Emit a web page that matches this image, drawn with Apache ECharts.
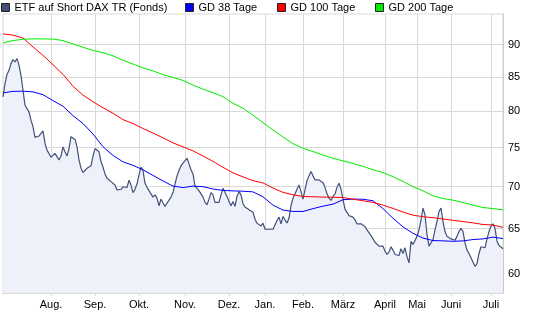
<!DOCTYPE html>
<html>
<head>
<meta charset="utf-8">
<title>ETF auf Short DAX TR (Fonds)</title>
<script src="https://cdn.jsdelivr.net/npm/echarts@6/dist/echarts.min.js"></script>
<style>
  html, body { margin: 0; padding: 0; background: #ffffff; }
  #chart { width: 545px; height: 327px; }
</style>
</head>
<body>
<div id="chart"></div>
<script>
// Month segments of the trading calendar (first segment is the partial start month)
const monthNames = ['Juli', 'Aug.', 'Sep.', 'Okt.', 'Nov.', 'Dez.', 'Jan.', 'Feb.', 'März', 'April', 'Mai', 'Juni', 'Juli'];
const pointsPerMonth = [24, 22, 22, 23, 22, 18, 19, 20, 21, 16, 17, 20, 7];

// Y axis tick labels
const yTicks = [60, 65, 70, 75, 80, 85, 90];

// Daily closing prices
const price = [
  82.05, 84.0, 85.37, 85.99, 87.02, 87.64, 87.27, 87.8, 86.76, 85.22,
  83.02, 80.84, 80.36, 79.88, 78.74, 77.82, 76.38, 76.38, 76.56, 76.4,
  77.27, 75.56, 74.67, 74.88, 73.73, 73.6, 74.25, 74.45, 73.39, 73.9,
  75.1, 74.45, 73.9, 74.88, 76.47, 76.24, 76.1, 75.1, 73.39, 72.33,
  71.77, 72.03, 72.33, 72.54, 72.63, 73.9, 74.88, 75.0, 74.45, 73.18,
  72.46, 71.6, 71.06, 70.84, 70.63, 70.63, 70.2, 69.6, 69.39, 69.68,
  69.99, 69.75, 69.9, 70.8, 70.2, 69.27, 69.68, 70.33, 71.47, 72.46,
  72.03, 70.42, 69.92, 69.51, 69.27, 68.72, 69.0, 68.6, 67.68, 68.48,
  68.0, 67.6, 68.0, 68.08, 68.72, 69.27, 70.33, 71.35, 72.03, 72.63,
  72.97, 73.18, 73.6, 72.88, 72.12, 71.6, 70.07, 69.8, 69.51, 69.12,
  68.72, 68.08, 67.8, 68.48, 69.27, 69.0, 68.08, 67.92, 68.08, 69.0,
  69.8, 69.68, 68.8, 68.2, 67.68, 68.2, 67.6, 68.8, 69.39, 69.0,
  67.92, 67.52, 67.4, 67.2, 67.15, 66.9, 66.08, 65.63, 65.63, 65.31,
  65.63, 64.92, 64.85, 64.92, 64.85, 64.92, 65.03, 65.93, 66.33, 65.55,
  66.41, 66.5, 65.63, 66.22, 67.68, 68.6, 69.12, 69.68, 70.2, 69.39,
  68.48, 69.6, 70.75, 71.35, 71.9, 71.35, 70.84, 70.75, 70.84, 70.63,
  70.5, 69.92, 69.12, 68.6, 68.32, 68.8, 69.12, 69.92, 70.42, 69.68,
  68.4, 67.28, 67.12, 66.5, 66.33, 66.33, 66.02, 65.55, 65.43, 65.55,
  65.55, 65.23, 64.85, 64.66, 64.19, 63.82, 63.45, 63.3, 63.01, 63.08,
  63.01, 62.46, 62.09, 62.35, 62.94, 62.57, 62.09, 61.91, 61.98, 62.72,
  62.2, 62.83, 61.83, 61.17, 63.56, 63.19, 63.3, 64.11, 64.85, 66.02,
  67.39, 66.6, 64.3, 63.01, 63.08, 63.74, 64.85, 65.81, 66.99, 67.39,
  65.81, 64.66, 64.11, 63.93, 63.82, 64.04, 63.67, 64.11, 64.66, 65.03,
  64.66, 63.38, 62.57, 62.2, 61.72, 61.24, 60.8, 61.1, 62.2, 62.94,
  62.83, 62.83, 63.82, 64.66, 65.26, 65.55, 65.03, 63.56, 63.08, 63.01,
  62.72
];

// Moving averages, sampled every fifth trading day
const maDays = [
  0, 5, 10, 15, 20, 25, 30, 35, 40, 45, 50, 55, 60, 65, 70, 75, 80, 85, 90, 95,
  100, 105, 110, 115, 120, 125, 130, 135, 140, 145, 150, 155, 160, 165, 170, 175,
  180, 185, 190, 195, 200, 205, 210, 215, 220, 225, 230, 235, 240, 245, 250
];
const gd38 = [
  82.63, 82.85, 82.88, 82.78, 82.37, 81.5, 80.7, 79.36, 78.27, 76.83,
  75.12, 73.97, 73.14, 72.69, 72.12, 71.41, 70.71, 70.07, 69.89, 70.07,
  70.0, 69.71, 69.54, 69.48, 69.44, 69.36, 68.76, 67.75, 67.16, 67.0,
  67.0, 67.33, 67.63, 67.87, 68.4, 68.48, 68.46, 68.28, 67.33, 66.2,
  65.19, 64.46, 63.91, 63.64, 63.6, 63.55, 63.6, 63.75, 63.82, 64.02,
  63.86
];
const gd100 = [
  91.71, 91.52, 91.04, 89.62, 88.3, 86.84, 85.37, 83.6, 82.3, 81.35,
  80.48, 79.7, 78.81, 78.27, 77.58, 76.97, 76.31, 75.63, 75.11, 74.57,
  73.9, 73.2, 72.44, 71.73, 71.22, 70.75, 70.46, 69.83, 69.3, 69.0,
  68.8, 68.76, 68.72, 68.7, 68.67, 68.46, 68.28, 68.08, 67.75, 67.36,
  66.92, 66.56, 66.38, 66.26, 66.11, 65.96, 65.81, 65.66, 65.47, 65.41,
  65.14
];
const gd200 = [
  90.27, 90.64, 90.85, 90.91, 90.91, 90.88, 90.64, 90.11, 89.57, 89.07,
  88.72, 88.23, 87.53, 86.94, 86.37, 85.91, 85.34, 84.91, 84.48, 83.78,
  83.17, 82.66, 82.08, 81.13, 80.41, 79.43, 78.4, 77.38, 76.42, 75.53,
  74.92, 74.48, 74.03, 73.61, 73.26, 72.94, 72.56, 72.12, 71.76, 71.25,
  70.65, 70.01, 69.48, 68.88, 68.55, 68.35, 68.07, 67.75, 67.46, 67.34,
  67.18
];

// Build the category list (one entry per trading day) and the month starts
const categories = [];
const monthStart = {};
pointsPerMonth.forEach(function (count, m) {
  for (let d = 0; d < count; d++) {
    if (d === 0 && m > 0) monthStart[categories.length] = monthNames[m];
    categories.push(monthNames[m] + ' ' + (d + 1));
  }
});
const isMonthStart = function (idx) { return monthStart[idx] !== undefined; };
const pairs = function (vals) { return vals.map(function (v, k) { return [maDays[k], v]; }); };

const FONT = 'Liberation Sans, Arial, Helvetica, sans-serif';
const GRID = '#d9d9d9';
const names = ['ETF auf Short DAX TR (Fonds)', 'GD 38 Tage', 'GD 100 Tage', 'GD 200 Tage'];
const colors = ['#415179', '#0000ff', '#ff0000', '#00ee00'];
const legendLeft = [1, 185, 277, 375];

const chart = echarts.init(document.getElementById('chart'), null, { renderer: 'canvas' });
chart.setOption({
  animation: false,
  backgroundColor: '#ffffff',
  textStyle: { fontFamily: FONT },
  legend: names.map(function (n, k) {
    return {
      data: [n],
      left: legendLeft[k],
      top: 2,
      padding: 0,
      icon: 'rect',
      itemWidth: 8,
      itemHeight: 8,
      selectedMode: false,
      itemStyle: { borderColor: '#222', borderWidth: 1 },
      textStyle: { fontFamily: FONT, fontSize: 11, color: '#000' }
    };
  }),
  grid: {
    left: 3, right: 42, top: 14, bottom: 34,
    show: true, borderColor: GRID, borderWidth: 1, backgroundColor: 'transparent'
  },
  xAxis: {
    type: 'category',
    data: categories,
    boundaryGap: false,
    axisLine: { show: true, lineStyle: { color: GRID } },
    axisTick: { show: true, length: 3, interval: isMonthStart, lineStyle: { color: GRID } },
    splitLine: { show: true, interval: isMonthStart, lineStyle: { color: GRID, width: 1 } },
    axisLabel: {
      interval: isMonthStart,
      margin: 6,
      color: '#000',
      fontFamily: FONT,
      fontSize: 11,
      formatter: function (val, idx) { return monthStart[idx] || ''; }
    }
  },
  yAxis: {
    type: 'log',
    logBase: 10,
    min: 58,
    max: 95,
    position: 'right',
    axisLine: { show: true, lineStyle: { color: '#cccccc' } },
    axisTick: { show: false, customValues: yTicks },
    splitLine: { show: true, lineStyle: { color: GRID, width: 1 } },
    axisLabel: {
      customValues: yTicks,
      margin: 5,
      color: '#000',
      fontFamily: FONT,
      fontSize: 11
    }
  },
  series: [
    {
      name: names[0], type: 'line', data: price, showSymbol: false, symbol: 'none',
      itemStyle: { color: colors[0] },
      lineStyle: { color: colors[0], width: 1.2 },
      areaStyle: { color: '#eef1f9', opacity: 1, origin: 'start' },
      z: 2
    },
    {
      name: names[1], type: 'line', data: pairs(gd38), showSymbol: false, symbol: 'none',
      itemStyle: { color: colors[1] }, lineStyle: { color: colors[1], width: 1 }, z: 3
    },
    {
      name: names[2], type: 'line', data: pairs(gd100), showSymbol: false, symbol: 'none',
      itemStyle: { color: colors[2] }, lineStyle: { color: colors[2], width: 1 }, z: 3
    },
    {
      name: names[3], type: 'line', data: pairs(gd200), showSymbol: false, symbol: 'none',
      itemStyle: { color: colors[3] }, lineStyle: { color: colors[3], width: 1 }, z: 3
    }
  ]
});
</script>
</body>
</html>
